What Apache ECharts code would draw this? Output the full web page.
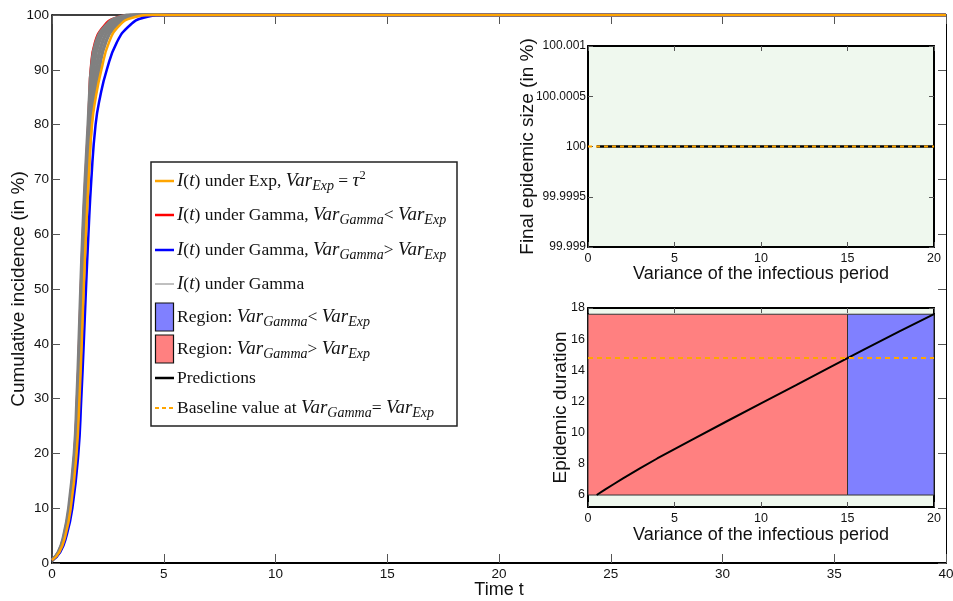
<!DOCTYPE html>
<html>
<head>
<meta charset="utf-8">
<script src="https://cdn.jsdelivr.net/npm/echarts@6/dist/echarts.min.js"></script>
<style>
  html, body { margin: 0; padding: 0; background: #fff; }
  #chart { width: 953px; height: 601px; }
</style>
</head>
<body>
<div id="chart"></div>
<script>
// ---- Cumulative incidence curves: time (days) at which each incidence level (%) is reached ----
const incidenceLevels = [0.5, 2, 5, 10, 20, 30, 40, 50, 60, 70, 80, 85, 90, 95, 98, 99.5, 100];
const timeExp    = [0, 0.33, 0.60, 0.84, 1.10, 1.23, 1.33, 1.42, 1.52, 1.64, 1.79, 1.96, 2.21, 2.55, 3.00, 3.60, 4.60];
const timeLower  = [0, 0.28, 0.52, 0.74, 0.98, 1.10, 1.19, 1.27, 1.36, 1.47, 1.60, 1.65, 1.71, 1.90, 2.30, 2.80, 3.60];
const timeHigher = [0, 0.37, 0.65, 0.91, 1.18, 1.31, 1.42, 1.52, 1.63, 1.76, 1.95, 2.15, 2.45, 2.90, 3.45, 4.10, 5.20];
const timeGamma1 = [0, 0.29, 0.53, 0.75, 1.00, 1.12, 1.21, 1.29, 1.38, 1.49, 1.62, 1.68, 1.76, 1.97, 2.40, 2.95, 3.80];
const timeGamma2 = [0, 0.30, 0.55, 0.78, 1.03, 1.15, 1.24, 1.33, 1.42, 1.53, 1.66, 1.75, 1.86, 2.10, 2.55, 3.10, 4.00];
const timeGamma3 = [0, 0.31, 0.57, 0.80, 1.06, 1.18, 1.27, 1.36, 1.45, 1.57, 1.71, 1.82, 1.98, 2.25, 2.70, 3.25, 4.20];
const timeGamma4 = [0, 0.32, 0.59, 0.82, 1.08, 1.21, 1.30, 1.39, 1.49, 1.61, 1.75, 1.89, 2.10, 2.40, 2.85, 3.42, 4.40];
const timeEnd = 40;  // every curve stays at its final level until the end of the window

// ---- Predictions against the variance of the infectious period ----
const varianceValues = [0.5, 1, 1.5, 2, 3, 4, 5, 6, 8, 10, 12, 14, 15, 16, 18, 20];
const finalSize      = [100, 100, 100, 100, 100, 100, 100, 100, 100, 100, 100, 100, 100, 100, 100, 100];
const duration       = [5.97, 6.33, 6.68, 7.02, 7.68, 8.32, 8.93, 9.52, 10.7, 11.86, 13.02, 14.2, 14.78, 15.36, 16.49, 17.6];
const varianceRange = [0, 20];
const baselineVariance = 15;
const baselineFinalSize = 100;
const baselineDuration = 14.78;

// ---- Tick values and labels ----
const timeTicks = [0, 5, 10, 15, 20, 25, 30, 35, 40];
const incidenceTicks = [0, 10, 20, 30, 40, 50, 60, 70, 80, 90, 100];
const varianceTicks = [0, 5, 10, 15, 20];
const sizeTicks = [99.999, 99.9995, 100, 100.0005, 100.001];
const sizeTickLabels = ['99.999', '99.9995', '100', '100.0005', '100.001'];
const durationTicks = [6, 8, 10, 12, 14, 16, 18];

// ---- Legend entries (rich text) ----
const legendLabels = [
  '{it|I}{rm|(}{it|t}{rm|) under Exp, }{it|Var}{sub|Exp}{rm| = }{it|τ}{sup|2}',
  '{it|I}{rm|(}{it|t}{rm|) under Gamma, }{it|Var}{sub|Gamma}{rm|< }{it|Var}{sub|Exp}',
  '{it|I}{rm|(}{it|t}{rm|) under Gamma, }{it|Var}{sub|Gamma}{rm|> }{it|Var}{sub|Exp}',
  '{it|I}{rm|(}{it|t}{rm|) under Gamma}',
  '{rm|Region: }{it|Var}{sub|Gamma}{rm|< }{it|Var}{sub|Exp}',
  '{rm|Region: }{it|Var}{sub|Gamma}{rm|> }{it|Var}{sub|Exp}',
  '{rm|Predictions}',
  '{rm|Baseline value at }{it|Var}{sub|Gamma}{rm|= }{it|Var}{sub|Exp}'
];

const SANS = '"Liberation Sans", Arial, Helvetica, sans-serif';
const SERIF = '"Liberation Serif", "DejaVu Serif", serif';
const COL_EXP = '#FFA500';
const COL_RED = '#FF0000';
const COL_BLUE = '#0000FF';
const COL_GRAY = '#808080';
const FILL_RED = '#FF8080';
const FILL_BLUE = '#8080FF';
const INSET_BG = '#EFF8EE';

function pairs(xs, ys) { return xs.map((x, i) => [x, ys[i]]); }

// Boxed axes: bottom/left carry labels, top/right only ticks
function xAxes(gridIndex, min, max, ticks, cfg) {
  const base = { gridIndex, type: 'value', min, max, splitLine: { show: false } };
  const tick = { inside: true, length: cfg.tickLen, customValues: ticks, lineStyle: { color: '#555', width: 1 } };
  return [
    Object.assign({}, base, {
      position: 'bottom',
      axisLine: { onZero: false, lineStyle: { color: '#000', width: cfg.lineWidth } },
      axisTick: tick,
      axisLabel: { customValues: ticks, margin: cfg.labelMargin, fontSize: cfg.labelSize, fontFamily: SANS, color: '#111' },
      name: cfg.name, nameLocation: 'middle', nameGap: cfg.nameGap, nameMoveOverlap: false,
      nameTextStyle: { fontSize: cfg.nameSize, fontFamily: SANS, color: '#111' }
    }),
    Object.assign({}, base, {
      position: 'top',
      axisLine: { onZero: false, lineStyle: { color: '#000', width: cfg.topWidth } },
      axisTick: tick,
      axisLabel: { show: false }
    })
  ];
}

function yAxes(gridIndex, min, max, ticks, cfg) {
  const base = { gridIndex, type: 'value', min, max, splitLine: { show: false }, scale: true };
  const tick = { inside: true, length: cfg.tickLen, customValues: ticks, lineStyle: { color: '#555', width: 1 } };
  return [
    Object.assign({}, base, {
      position: 'left',
      axisLine: { onZero: false, lineStyle: { color: '#000', width: cfg.lineWidth } },
      axisTick: tick,
      axisLabel: { customValues: ticks, margin: cfg.labelMargin, fontSize: cfg.labelSize, fontFamily: SANS, color: '#111',
                   formatter: cfg.formatter },
      name: cfg.name, nameLocation: 'middle', nameGap: cfg.nameGap, nameMoveOverlap: false,
      nameTextStyle: { fontSize: cfg.nameSize, fontFamily: SANS, color: '#111' }
    }),
    Object.assign({}, base, {
      position: 'right',
      axisLine: { onZero: false, lineStyle: { color: '#000', width: cfg.topWidth } },
      axisTick: tick,
      axisLabel: { show: false }
    })
  ];
}

function sizeLabel(v) {
  let best = 0;
  sizeTicks.forEach((t, i) => { if (Math.abs(t - v) < Math.abs(sizeTicks[best] - v)) best = i; });
  return sizeTickLabels[best];
}

const xAxisList = [].concat(
  xAxes(0, 0, 40, timeTicks, { tickLen: 9, lineWidth: 2, topWidth: 1.5, labelMargin: 4, labelSize: 13.5, name: 'Time t', nameGap: 18, nameSize: 18 }),
  xAxes(1, 0, 20, varianceTicks, { tickLen: 5, lineWidth: 2, topWidth: 2, labelMargin: 5, labelSize: 12.5, name: 'Variance of the infectious period', nameGap: 18, nameSize: 18 }),
  xAxes(2, 0, 20, varianceTicks, { tickLen: 5, lineWidth: 2, topWidth: 2, labelMargin: 5, labelSize: 12.5, name: 'Variance of the infectious period', nameGap: 19, nameSize: 18 })
);
const yAxisList = [].concat(
  yAxes(0, 0, 100, incidenceTicks, { tickLen: 8, lineWidth: 1.5, topWidth: 1, labelMargin: 3, labelSize: 13.5, name: 'Cumulative incidence (in %)', nameGap: 24, nameSize: 19 }),
  yAxes(1, 99.999, 100.001, sizeTicks, { tickLen: 5, lineWidth: 2, topWidth: 2, labelMargin: 2, labelSize: 12, name: 'Final epidemic size (in %)', nameGap: 51, nameSize: 19, formatter: sizeLabel }),
  yAxes(2, 5.2, 18, durationTicks, { tickLen: 5, lineWidth: 2, topWidth: 2, labelMargin: 3, labelSize: 12.5, name: 'Epidemic duration', nameGap: 18, nameSize: 19 })
);

function curve(name, times, color, width, z) {
  const pts = pairs(times, incidenceLevels);
  pts.push([timeEnd, incidenceLevels[incidenceLevels.length - 1]]);
  return {
    name, type: 'line', xAxisIndex: 0, yAxisIndex: 0, data: pts,
    showSymbol: false, smooth: 0.5, clip: false, z,
    lineStyle: { color, width }, emphasis: { disabled: true }, silent: true
  };
}

const minDur = Math.min.apply(null, duration);
const maxDur = Math.max.apply(null, duration);

const series = [
  curve('lower', timeLower, COL_RED, 1.5, 2),
  curve('gamma1', timeGamma1, COL_GRAY, 3.5, 3),
  curve('gamma2', timeGamma2, COL_GRAY, 3.5, 3),
  curve('gamma3', timeGamma3, COL_GRAY, 3.5, 3),
  curve('gamma4', timeGamma4, COL_GRAY, 3.5, 3),
  curve('higher', timeHigher, COL_BLUE, 2.5, 4),
  curve('exp', timeExp, COL_EXP, 2.5, 5),

  // final epidemic size
  { type: 'line', xAxisIndex: 2, yAxisIndex: 2, data: pairs(varianceValues, finalSize), showSymbol: false,
    lineStyle: { color: '#000', width: 2.5 }, z: 3, silent: true },
  { type: 'line', xAxisIndex: 2, yAxisIndex: 2,
    data: pairs(varianceRange, [baselineFinalSize, baselineFinalSize]), showSymbol: false,
    lineStyle: { color: COL_EXP, width: 2, type: [4, 4] }, z: 4, silent: true },

  // epidemic duration with the two variance regions
  { type: 'line', xAxisIndex: 4, yAxisIndex: 4, data: pairs(varianceValues, duration), showSymbol: false,
    lineStyle: { color: '#000', width: 2 }, z: 3, silent: true,
    markArea: {
      silent: true,
      data: [
        [{ xAxis: varianceRange[0], yAxis: minDur, itemStyle: { color: FILL_RED, borderColor: '#333', borderWidth: 1 } },
         { xAxis: baselineVariance, yAxis: maxDur }],
        [{ xAxis: baselineVariance, yAxis: minDur, itemStyle: { color: FILL_BLUE, borderColor: '#333', borderWidth: 1 } },
         { xAxis: varianceRange[1], yAxis: maxDur }]
      ]
    } },
  { type: 'line', xAxisIndex: 4, yAxisIndex: 4,
    data: pairs(varianceRange, [baselineDuration, baselineDuration]), showSymbol: false,
    lineStyle: { color: COL_EXP, width: 2, type: [5, 4] }, z: 4, silent: true }
];

// Legend box drawn with graphic elements
const rowY = [181, 215, 250, 284, 317, 349, 378, 408];
const legendGraphics = [
  { type: 'rect', shape: { x: 151, y: 162, width: 306, height: 264 },
    style: { fill: '#fff', stroke: '#222', lineWidth: 1.5 }, z: 100 }
];
const lineSwatches = [
  { row: 0, color: COL_EXP, width: 2.5 },
  { row: 1, color: COL_RED, width: 2.5 },
  { row: 2, color: COL_BLUE, width: 2.5 },
  { row: 3, color: COL_GRAY, width: 1 },
  { row: 6, color: '#000', width: 2.5 },
  { row: 7, color: COL_EXP, width: 2, dash: [4, 3] }
];
lineSwatches.forEach(s => {
  legendGraphics.push({
    type: 'line', z: 101,
    shape: { x1: 155, y1: rowY[s.row], x2: 174, y2: rowY[s.row] },
    style: { stroke: s.color, lineWidth: s.width, lineDash: s.dash || null }
  });
});
[{ row: 4, fill: FILL_BLUE }, { row: 5, fill: FILL_RED }].forEach(p => {
  legendGraphics.push({
    type: 'rect', z: 101,
    shape: { x: 155.5, y: rowY[p.row] - 14, width: 18, height: 28 },
    style: { fill: p.fill, stroke: '#111', lineWidth: 1.2 }
  });
});
const richStyles = {
  it: { fontFamily: SERIF, fontStyle: 'italic', fontSize: 19, lineHeight: 24, fill: '#111', verticalAlign: 'middle' },
  rm: { fontFamily: SERIF, fontSize: 17.5, lineHeight: 24, fill: '#111', verticalAlign: 'middle' },
  sub: { fontFamily: SERIF, fontStyle: 'italic', fontSize: 14, lineHeight: 14, fill: '#111', verticalAlign: 'bottom' },
  sup: { fontFamily: SERIF, fontSize: 12.5, lineHeight: 13, fill: '#111', verticalAlign: 'top' }
};
legendLabels.forEach((txt, i) => {
  legendGraphics.push({
    type: 'text', z: 101, x: 177, y: rowY[i],
    style: { text: txt, rich: richStyles, align: 'left', verticalAlign: 'middle' }
  });
});

const chart = echarts.init(document.getElementById('chart'), null, { renderer: 'canvas' });
chart.setOption({
  animation: false,
  backgroundColor: '#fff',
  grid: [
    { left: 52, top: 15, width: 894, height: 548, show: false, outerBoundsMode: 'none', containLabel: false },
    { left: 588, top: 46, width: 346, height: 201, show: true, backgroundColor: INSET_BG, borderWidth: 0, outerBoundsMode: 'none', containLabel: false },
    { left: 588, top: 308, width: 346, height: 199, show: true, backgroundColor: INSET_BG, borderWidth: 0, outerBoundsMode: 'none', containLabel: false }
  ],
  xAxis: xAxisList,
  yAxis: yAxisList,
  series,
  graphic: legendGraphics
});
</script>
</body>
</html>
